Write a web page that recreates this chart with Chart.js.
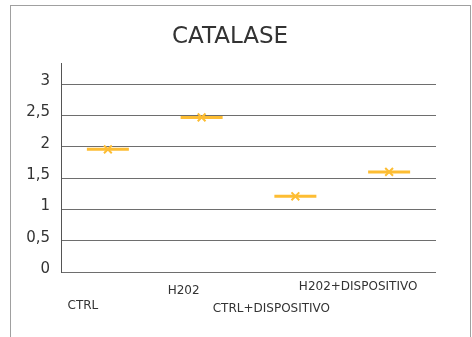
<!DOCTYPE html>
<html>
<head>
<meta charset="utf-8">
<script src="https://cdn.jsdelivr.net/npm/chart.js@4/dist/chart.umd.min.js"></script>
<style>
  html, body { margin: 0; padding: 0; background: #fff; }
  #wrap { width: 472px; height: 337px; position: relative; }
</style>
</head>
<body>
<div id="wrap"><canvas id="c" width="472" height="337"></canvas></div>
<script>
// Catalase activity per treatment group
const categories = ['CTRL', 'H202', 'CTRL+DISPOSITIVO', 'H202+DISPOSITIVO'];
const catalase = [1.96, 2.47, 1.21, 1.6];
const yTicks = [0, 0.5, 1, 1.5, 2, 2.5, 3];

// Staggered category label placement (offsets from each category centre)
const labelDx = [-25, -18, -24, -31];
const labelY = [306, 291, 309, 287];

const FONT = "'DejaVu Sans', sans-serif";
const GOLD = '#FDBD33';
const TEXT = '#333333';

const frame = {
  id: 'frame',
  beforeDraw(chart) {
    const ctx = chart.ctx;
    ctx.save();
    ctx.fillStyle = '#ffffff';
    ctx.fillRect(0, 0, chart.width, chart.height);
    ctx.strokeStyle = '#a0a0a0';
    ctx.lineWidth = 1;
    ctx.strokeRect(10.5, 5.5, 460, 340);
    ctx.restore();
  }
};

const staggeredLabels = {
  id: 'staggeredLabels',
  afterDraw(chart) {
    const ctx = chart.ctx;
    const xs = chart.scales.x;
    ctx.save();
    ctx.font = '12px ' + FONT;
    ctx.fillStyle = TEXT;
    ctx.textAlign = 'center';
    ctx.textBaseline = 'middle';
    categories.forEach((c, i) => {
      ctx.fillText(c, xs.getPixelForValue(i) + labelDx[i], labelY[i]);
    });
    ctx.restore();
  }
};

new Chart(document.getElementById('c'), {
  type: 'line',
  data: {
    labels: categories,
    datasets: [
      {
        data: catalase,
        showLine: false,
        pointStyle: 'line',
        pointRadius: 21,
        pointHoverRadius: 21,
        pointBorderWidth: 3,
        borderColor: GOLD,
        backgroundColor: GOLD
      },
      {
        data: catalase,
        showLine: false,
        pointStyle: 'crossRot',
        pointRadius: 5.5,
        pointHoverRadius: 5.5,
        pointBorderWidth: 2,
        borderColor: GOLD,
        backgroundColor: GOLD
      }
    ]
  },
  options: {
    responsive: false,
    animation: false,
    events: [],
    layout: { padding: { left: 24, top: 0, right: 36, bottom: 65 } },
    plugins: {
      legend: { display: false },
      tooltip: { enabled: false },
      title: {
        display: true,
        text: 'CATALASE',
        color: TEXT,
        font: { family: FONT, size: 23, weight: 'normal', lineHeight: 1.2 },
        padding: { top: 23, bottom: 12.4 }
      }
    },
    scales: {
      x: {
        type: 'category',
        offset: true,
        grid: { display: false },
        border: { display: false },
        ticks: { display: false },
        afterFit(scale) { scale.height = 0; }
      },
      y: {
        min: 0,
        max: 3.34,
        afterBuildTicks(scale) {
          scale.ticks = yTicks.map(v => ({ value: v }));
        },
        afterFit(scale) { scale.width = 37; },
        grid: { color: '#6e6e6e', lineWidth: 1, drawTicks: false },
        border: { display: true, color: '#555555', width: 1 },
        ticks: {
          padding: 11,
          labelOffset: -3,
          color: TEXT,
          font: { family: FONT, size: 15 },
          callback: v => String(v).replace('.', ',')
        }
      }
    }
  },
  plugins: [frame, staggeredLabels]
});
</script>
</body>
</html>
